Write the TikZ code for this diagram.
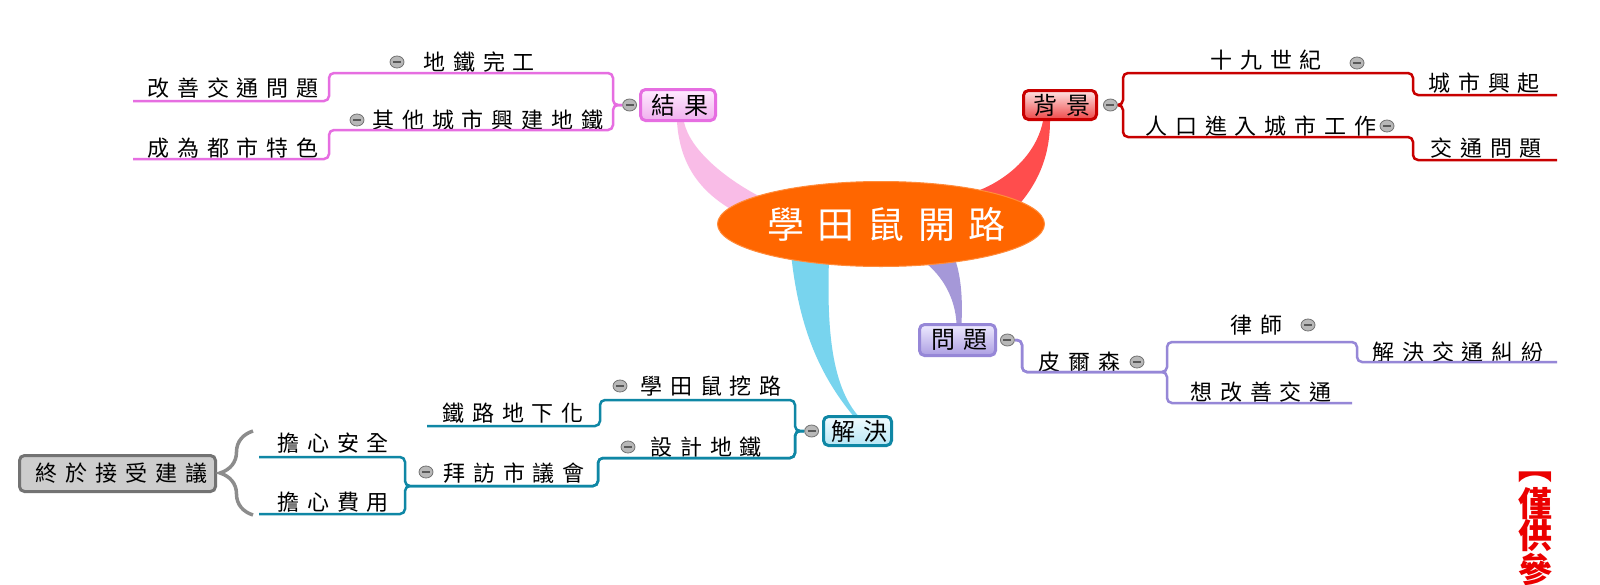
\documentclass[tikz,border=0pt]{standalone}
\usepackage{fontspec}
\usepackage{tikz}
\usetikzlibrary{positioning,shapes.geometric,backgrounds,decorations.pathreplacing}
\newfontfamily\cjk[LetterSpace=36]{Noto Sans CJK TC}
\newfontfamily\cjknote{Noto Sans CJK TC}

\definecolor{hubc}{RGB}{255,102,0}
\definecolor{hubr}{RGB}{255,140,60}
\definecolor{lres}{RGB}{230,110,225}
\definecolor{tres}{RGB}{255,236,255}
\definecolor{bres}{RGB}{240,175,238}
\definecolor{wres}{RGB}{249,188,231}
\definecolor{lbg}{RGB}{200,0,0}
\definecolor{tbg}{RGB}{255,228,228}
\definecolor{bbg}{RGB}{238,72,72}
\definecolor{wbg}{RGB}{255,77,77}
\definecolor{lprob}{RGB}{150,135,215}
\definecolor{tprob}{RGB}{238,234,255}
\definecolor{bprob}{RGB}{172,158,226}
\definecolor{wprob}{RGB}{165,152,216}
\definecolor{lsol}{RGB}{15,135,165}
\definecolor{tsol}{RGB}{242,252,255}
\definecolor{bsol}{RGB}{182,230,245}
\definecolor{wsol}{RGB}{120,212,238}
\definecolor{lfin}{RGB}{115,115,115}
\definecolor{ffin}{RGB}{205,205,205}
\definecolor{notec}{RGB}{235,0,0}

\tikzset{
  hub/.style={ellipse, minimum width=327pt, minimum height=85pt, inner sep=0pt,
    fill=hubc, draw=hubr, line width=1pt},
  hubtxt/.style={inner sep=0pt, anchor=west, text=white, font=\cjk\fontsize{37}{40}\selectfont},
  topic/.style={rectangle, rounded corners=5pt, line width=3pt, inner sep=0pt,
    font=\cjk\fontsize{24}{26}\selectfont, execute at begin node=\hspace*{4.3pt}},
  lbl/.style={inner sep=0pt, anchor=west, font=\cjk\fontsize{22}{24}\selectfont},
  fold/.style={ellipse, minimum width=14pt, minimum height=12pt, inner sep=0pt,
    draw=black!55, fill=black!28, line width=0.8pt,
    path picture={\draw[line width=1.2pt, black!65]
      ([xshift=-4pt]path picture bounding box.center) -- ([xshift=4pt]path picture bounding box.center);}},
  conn/.style={line width=2.5pt, rounded corners=5pt},
  brc/.style={decorate, decoration={brace, amplitude=33pt}, line width=3.5pt, draw=black!45},
  note/.style={inner sep=0pt, align=center, text=notec, font=\cjknote\bfseries\fontsize{34}{32.5}\selectfont},
}

\begin{document}
\begin{tikzpicture}[x=1pt, y=-1pt]
  \useasboundingbox (0,0) rectangle (1600,584);

  % centre
  \node[hub] (hub) at (881,224) {};
  \node[hubtxt] (hubt) at (767,224) {學田鼠開路};

  % the four main topics
  \node[topic, draw=lres, top color=tres, bottom color=bres, minimum width=75pt, minimum height=31pt] (res) at (678,105) {結果};
  \node[topic, draw=lbg, top color=tbg, bottom color=bbg, minimum width=73pt, minimum height=29pt] (bg) at (1060,105) {背景};
  \node[topic, draw=lprob, top color=tprob, bottom color=bprob, minimum width=76pt, minimum height=31pt] (prob) at (957.5,340) {問題};
  \node[topic, draw=lsol, top color=tsol, bottom color=bsol, minimum width=68pt, minimum height=29pt] (sol) at (857.5,431) {解決};
  \node[topic, draw=lfin, fill=ffin, minimum width=196pt, minimum height=36pt,
    font=\cjk\fontsize{22}{24}\selectfont, execute at begin node=\hspace*{4pt}] (fin) at (117.5,473.5) {終於接受建議};

  \node[fold, left=2pt of res] (f_res) {};
  \node[fold, right=5pt of bg] (f_bg) {};
  \node[fold, right=3pt of prob] (f_prob) {};
  \node[fold, left=3pt of sol] (f_sol) {};

  % results
  \node[lbl] (done) at (423,62) {地鐵完工};
  \node[lbl] (imp) at (147,88) {改善交通問題};
  \node[lbl] (city) at (372,120) {其他城市興建地鐵};
  \node[lbl] (feat) at (147,148) {成為都市特色};
  \node[fold] (f_done) at (397,62) {};
  \node[fold] (f_city) at (357,120) {};

  % background
  \node[lbl] (c19) at (1210,60) {十九世紀};
  \node[lbl] (rise) at (1428,83) {城市興起};
  \node[lbl] (pop) at (1145,126) {人口進入城市工作};
  \node[lbl] (traf) at (1430,148) {交通問題};
  \node[fold] (f_c19) at (1357,63) {};
  \node[fold] (f_pop) at (1387,126) {};

  % problem
  \node[lbl] (pier) at (1038,362) {皮爾森};
  \node[lbl] (law) at (1230,325) {律師};
  \node[lbl] (solve) at (1372,352) {解決交通糾紛};
  \node[lbl] (want) at (1190,392) {想改善交通};
  \node[fold] (f_pier) at (1137,362) {};
  \node[fold] (f_law) at (1308,325) {};

  % solution
  \node[lbl] (dig) at (640,386) {學田鼠挖路};
  \node[lbl] (under) at (442,413) {鐵路地下化};
  \node[lbl] (design) at (650,447) {設計地鐵};
  \node[lbl] (visit) at (443,473) {拜訪市議會};
  \node[lbl] (safe) at (277,443) {擔心安全};
  \node[lbl] (cost) at (277,502) {擔心費用};
  \node[fold] (f_dig) at (620,386) {};
  \node[fold] (f_design) at (628,447) {};
  \node[fold] (f_visit) at (426,472) {};

  % vertical note, cut by the lower edge
  \node[note, anchor=north] (memo) at (1535,487) {僅\\供\\參};
  \node[note, rotate=-90] (brk) at (1535,466) {【};

  % open ends of the underlines
  \coordinate (e_imp) at (133,101);
  \coordinate (e_feat) at (133,159);
  \coordinate (e_rise) at (1557,95);
  \coordinate (e_traf) at (1557,160);
  \coordinate (e_solve) at (1557,362);
  \coordinate (e_want) at (1352,403);
  \coordinate (e_under) at (427,426);
  \coordinate (e_safe) at (259,457);
  \coordinate (e_cost) at (259,514);
  \coordinate (b_top) at (253,431);
  \coordinate (b_bot) at (253,515);

  \draw[conn, lres] (f_res.west) -| (613,73) -| (329,101) -- (e_imp);
  \draw[conn, lres] (f_res.west) -| (613,130) -| (329,159) -- (e_feat);
  \draw[conn, lbg] (f_bg.east) -| (1123,73) -| (1413,95) -- (e_rise);
  \draw[conn, lbg] (f_bg.east) -| (1123,137) -| (1413,160) -- (e_traf);
  \draw[conn, lprob] (f_prob.east) -| (1022,372) -| (1167,342) -| (1357,362) -- (e_solve);
  \draw[conn, lprob] (f_prob.east) -| (1022,372) -| (1167,403) -- (e_want);
  \draw[conn, lsol] (f_sol.west) -| (795,400) -| (600,426) -- (e_under);
  \draw[conn, lsol] (f_sol.west) -| (795,458) -| (598,486) -| (405,457) -- (e_safe);
  \draw[conn, lsol] (f_sol.west) -| (795,458) -| (598,486) -| (405,514) -- (e_cost);
  \draw[brc] (b_bot) -- (b_top);

  % tapered branches behind the centre
  \begin{scope}[on background layer]
    \fill[white] (0,0) rectangle (1600,584);
    \fill[wres] (hub.center) -- (hub.174) .. controls (700,190) and (680,165) .. ([xshift=-1pt]res.south)
      -- ([xshift=6pt]res.south) .. controls (690,150) and (725,178) .. (hub.167) -- cycle;
    \fill[wbg] (hub.center) -- (hub.19) .. controls (1000,182) and (1035,160) .. ([xshift=-17pt]bg.south)
      -- ([xshift=-10pt]bg.south) .. controls (1050,160) and (1035,185) .. (hub.9) -- cycle;
    \fill[wsol] (hub.center) -- (hub.202) .. controls (800,330) and (820,375) .. ([xshift=-5pt]sol.north)
      -- (sol.north) .. controls (832,385) and (827,330) .. (hub.218) -- cycle;
    \fill[wprob] (hub.center) -- (hub.319) .. controls (945,280) and (955,300) .. ([xshift=-1pt]prob.north)
      -- ([xshift=4pt]prob.north) .. controls (963,295) and (960,275) .. (hub.333) -- cycle;
  \end{scope}
\end{tikzpicture}
\end{document}
